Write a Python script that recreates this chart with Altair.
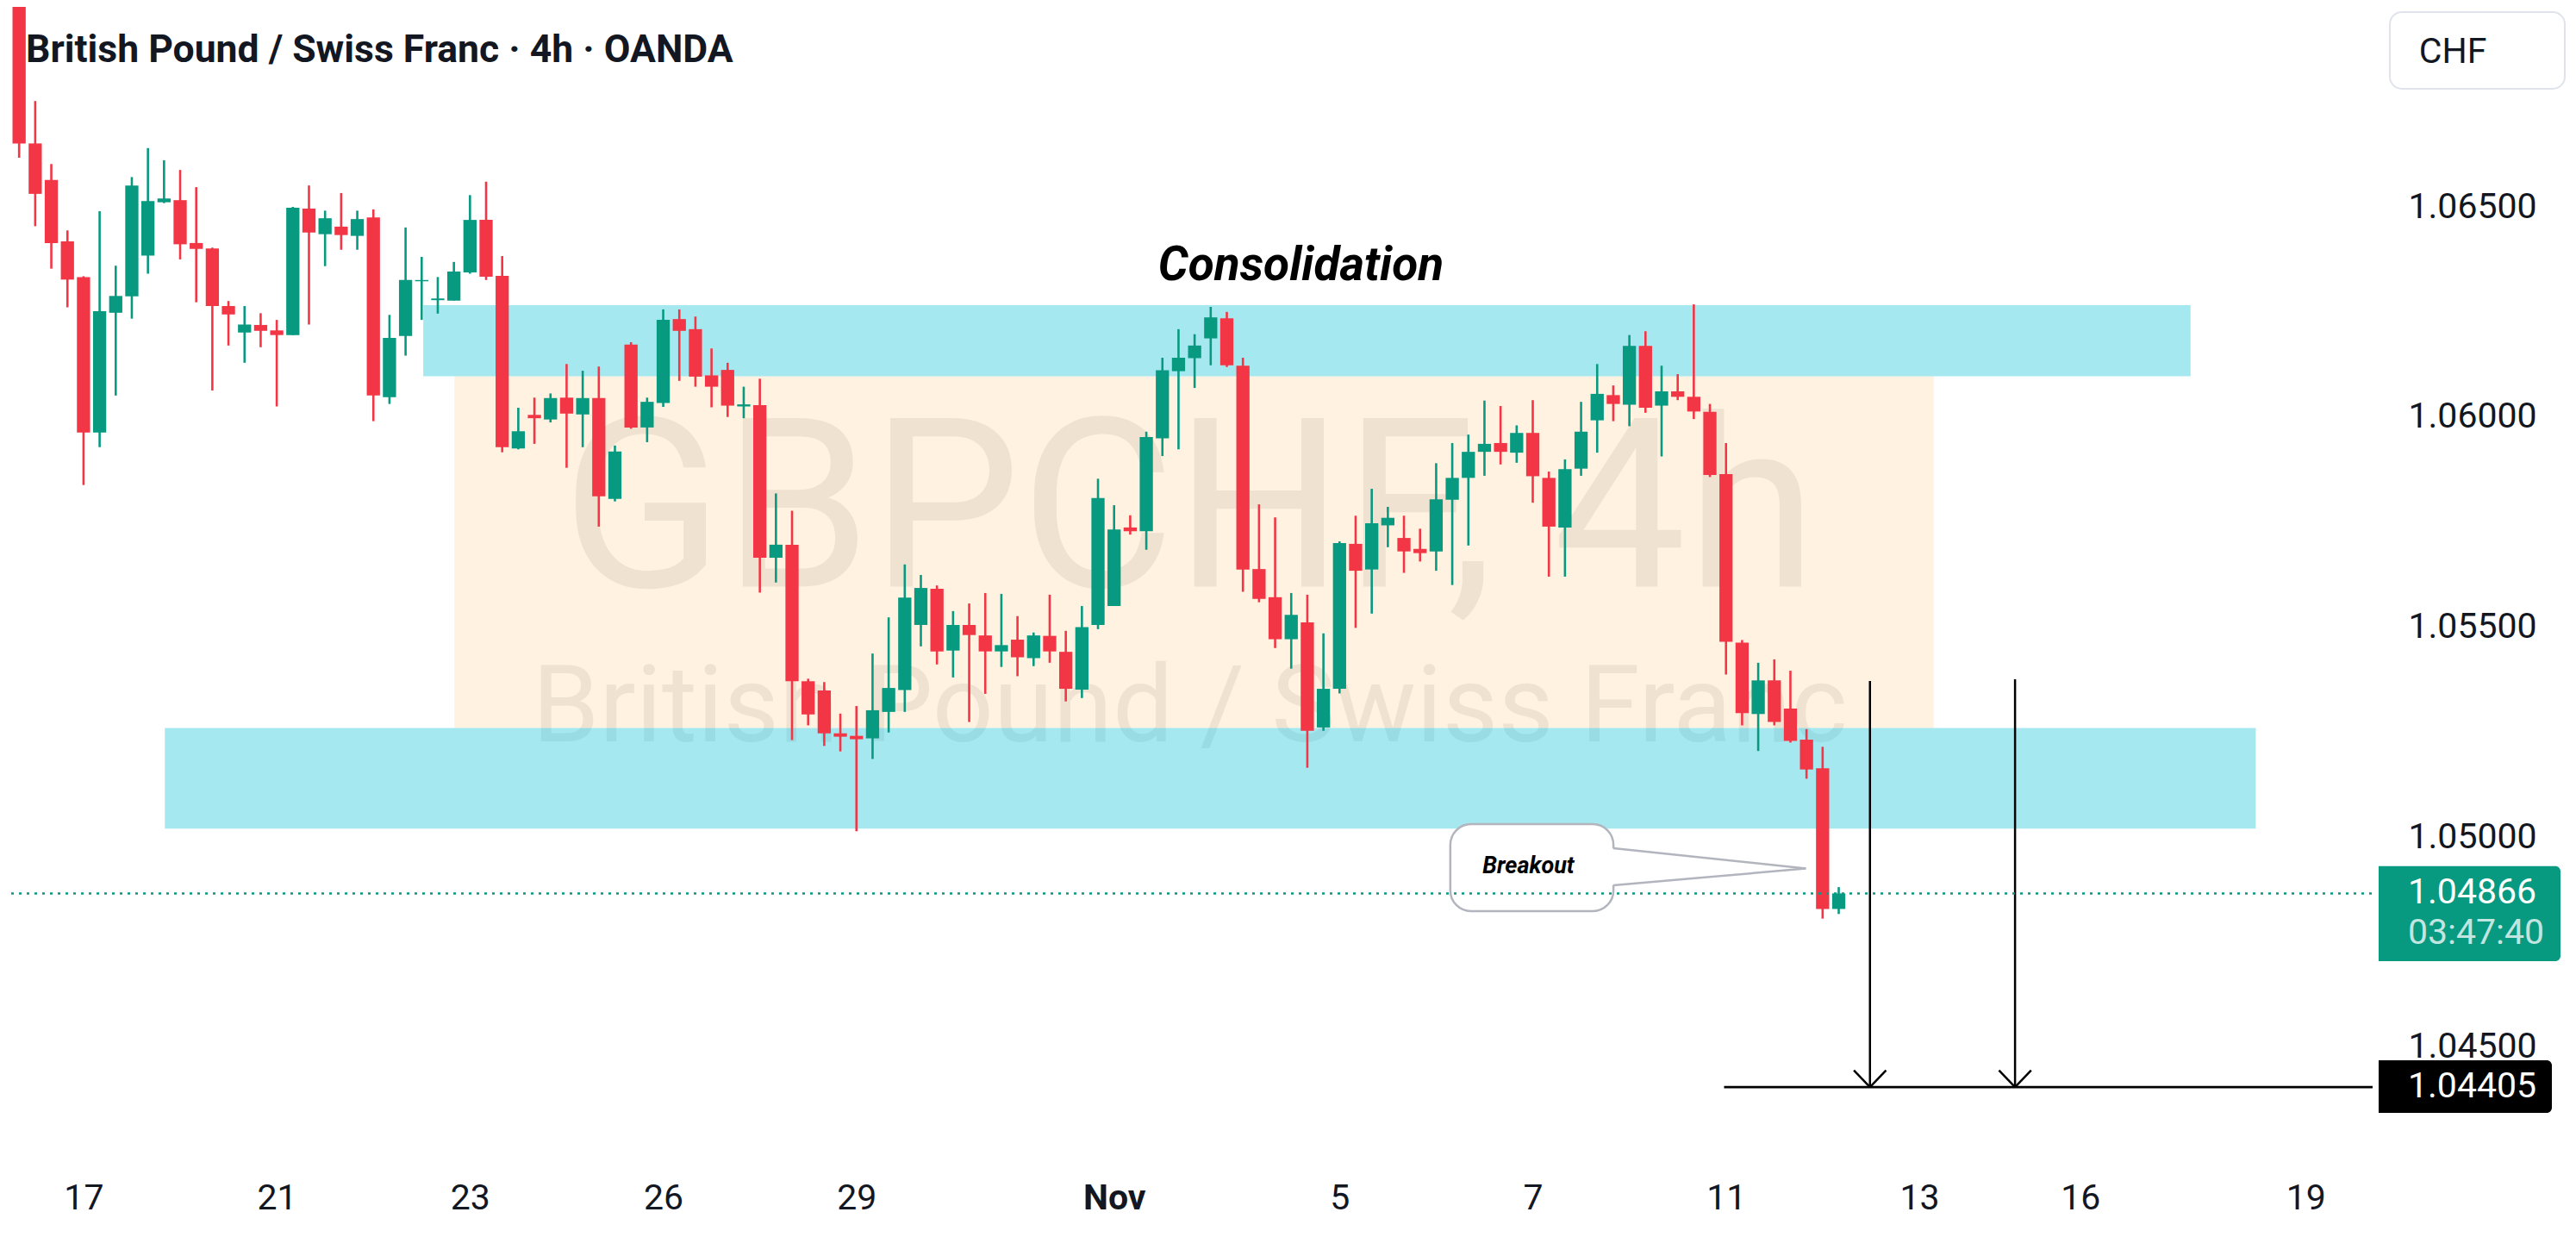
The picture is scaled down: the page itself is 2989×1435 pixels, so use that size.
import altair as alt
import pandas as pd

# ---------------- data ----------------
opens = [1.0705, 1.06651, 1.06564, 1.06418, 1.06333, 1.05963, 1.06248, 1.06287, 1.06384, 1.06511,
         1.06516, 1.06414, 1.06401, 1.06264, 1.06201, 1.06219, 1.06206, 1.06195, 1.06496, 1.06435,
         1.06453, 1.06431, 1.06475, 1.06047, 1.06193, 1.06323, 1.06278, 1.06277, 1.06344, 1.06469,
         1.06336, 1.05925, 1.06005, 1.05994, 1.06046, 1.06006, 1.06045, 1.05805, 1.06172, 1.05975,
         1.06033, 1.06233, 1.06209, 1.06099, 1.06112, 1.06025, 1.06028, 1.05665, 1.05696, 1.05371,
         1.05349, 1.05247, 1.05241, 1.05235, 1.05298, 1.05350, 1.05505, 1.05591, 1.05444, 1.05505,
         1.05480, 1.05442, 1.05470, 1.05426, 1.05479, 1.05441, 1.05351, 1.05505, 1.05550, 1.05737,
         1.05728, 1.05949, 1.06109, 1.06140, 1.06187, 1.06235, 1.06122, 1.05638, 1.05571, 1.05471,
         1.05511, 1.05261, 1.05353, 1.05698, 1.05637, 1.05742, 1.05712, 1.05686, 1.05680, 1.05803,
         1.05855, 1.05917, 1.05938, 1.05915, 1.05962, 1.05855, 1.05737, 1.05877, 1.05992, 1.06052,
         1.06029, 1.06169, 1.06027, 1.06061, 1.06048, 1.06012, 1.05864, 1.05463, 1.05293, 1.05373,
         1.05306, 1.05232, 1.05164, 1.04829]
highs = [1.0708, 1.06752, 1.06602, 1.06444, 1.06335, 1.06490, 1.06360, 1.06571, 1.06640, 1.06611,
         1.06588, 1.06547, 1.06403, 1.06276, 1.06264, 1.06247, 1.06231, 1.06500, 1.06551, 1.06491,
         1.06533, 1.06491, 1.06494, 1.06243, 1.06451, 1.06381, 1.06333, 1.06369, 1.06528, 1.06560,
         1.06383, 1.06022, 1.06046, 1.06056, 1.06126, 1.06110, 1.06120, 1.05932, 1.06178, 1.06046,
         1.06256, 1.06256, 1.06239, 1.06163, 1.06129, 1.06072, 1.06091, 1.05818, 1.05777, 1.05377,
         1.05369, 1.05294, 1.05312, 1.05437, 1.05523, 1.05649, 1.05624, 1.05599, 1.05538, 1.05556,
         1.05581, 1.05579, 1.05526, 1.05487, 1.05577, 1.05491, 1.05550, 1.05853, 1.05790, 1.05766,
         1.05965, 1.06141, 1.06209, 1.06197, 1.06262, 1.06250, 1.06141, 1.05792, 1.05761, 1.05581,
         1.05577, 1.05485, 1.05704, 1.05765, 1.05829, 1.05786, 1.05765, 1.05734, 1.05890, 1.05938,
         1.05958, 1.06039, 1.06026, 1.05980, 1.06040, 1.05870, 1.05899, 1.06036, 1.06126, 1.06075,
         1.06195, 1.06204, 1.06122, 1.06102, 1.06268, 1.06031, 1.05938, 1.05469, 1.05415, 1.05423,
         1.05396, 1.05257, 1.05215, 1.04881]
lows = [1.06617, 1.06454, 1.06353, 1.06261, 1.05838, 1.05928, 1.06051, 1.06234, 1.06341, 1.06509,
        1.06375, 1.06273, 1.06063, 1.06170, 1.06129, 1.06166, 1.06025, 1.06195, 1.06220, 1.06359,
        1.06398, 1.06398, 1.05990, 1.06031, 1.06146, 1.06231, 1.06246, 1.06277, 1.06341, 1.06326,
        1.05916, 1.05923, 1.05936, 1.05987, 1.05879, 1.05928, 1.05739, 1.05799, 1.05972, 1.05940,
        1.06024, 1.06086, 1.06072, 1.06023, 1.06000, 1.05997, 1.05582, 1.05606, 1.05231, 1.05266,
        1.05217, 1.05204, 1.05014, 1.05186, 1.05249, 1.05298, 1.05454, 1.05411, 1.05380, 1.05274,
        1.05341, 1.05405, 1.05383, 1.05407, 1.05415, 1.05323, 1.05331, 1.05495, 1.05550, 1.05720,
        1.05684, 1.05907, 1.05923, 1.06069, 1.06123, 1.06119, 1.05584, 1.05559, 1.05450, 1.05401,
        1.05165, 1.05253, 1.05342, 1.05498, 1.05532, 1.05690, 1.05629, 1.05656, 1.05634, 1.05600,
        1.05694, 1.05860, 1.05887, 1.05891, 1.05796, 1.05620, 1.05620, 1.05860, 1.05915, 1.05990,
        1.05978, 1.06010, 1.05906, 1.06040, 1.05995, 1.05857, 1.05387, 1.05266, 1.05205, 1.05266,
        1.05225, 1.05139, 1.04806, 1.04817]
closes = [1.06651, 1.06531, 1.06414, 1.06327, 1.05963, 1.06252, 1.06288, 1.06551, 1.06514, 1.06520,
          1.06411, 1.06400, 1.06264, 1.06244, 1.06220, 1.06205, 1.06195, 1.06498, 1.06439, 1.06473,
          1.06433, 1.06471, 1.06051, 1.06188, 1.06326, 1.06326, 1.06282, 1.06346, 1.06469, 1.06334,
          1.05928, 1.05966, 1.05997, 1.06045, 1.06008, 1.06045, 1.05811, 1.05918, 1.05975, 1.06036,
          1.06231, 1.06205, 1.06096, 1.06072, 1.06027, 1.06030, 1.05665, 1.05696, 1.05371, 1.05292,
          1.05247, 1.05239, 1.05233, 1.05302, 1.05355, 1.05570, 1.05593, 1.05442, 1.05505, 1.05481,
          1.05442, 1.05457, 1.05428, 1.05480, 1.05442, 1.05353, 1.05500, 1.05807, 1.05732, 1.05728,
          1.05952, 1.06111, 1.06141, 1.06170, 1.06237, 1.06123, 1.05637, 1.05567, 1.05471, 1.05529,
          1.05253, 1.05353, 1.05700, 1.05634, 1.05747, 1.05760, 1.05680, 1.05676, 1.05804, 1.05855,
          1.05917, 1.05936, 1.05917, 1.05962, 1.05859, 1.05739, 1.05876, 1.05965, 1.06055, 1.06031,
          1.06169, 1.06022, 1.06061, 1.06048, 1.06013, 1.05862, 1.05465, 1.05295, 1.05373, 1.05274,
          1.05229, 1.05161, 1.04829, 1.04866]
bar_index = list(range(1, len(opens) + 1))

tick_bars = [5, 17, 29, 41, 53, 69, 83, 95, 107, 119, 129, 143]
tick_labels = ["17", "21", "23", "26", "29", "Nov", "5", "7", "11", "13", "16", "19"]
price_ticks = [1.045, 1.050, 1.055, 1.060, 1.065]

# drawings (bar index / price)
resist_x = [26.1, 135.85]
resist_y = [1.06266, 1.06097]
range_x = [28.03, 119.9]
range_y = [1.06097, 1.05260]
support_x = [10.05, 139.9]
support_y = [1.05260, 1.05020]

last_price = 1.04866
target_price = 1.04405
target_x = [106.88]
arrow_x = [115.94, 124.95]
arrow_top = [1.053716, 1.053757]

callout_x = [89.88, 100.01]
callout_y = [1.050310, 1.048238]
tail_base_y = [1.049735, 1.048853]
tail_tip = [111.96, 1.049253]

TITLE = "British Pound / Swiss Franc · 4h · OANDA"
WATERMARK_1 = "GBPCHF, 4h"
WATERMARK_2 = "British Pound / Swiss Franc"

# ---------------- style ----------------
W, H = 2750, 1337
XDOM = [0.509, 147.155]
YDOM = [1.042329, 1.069760]
GREEN = "#089981"
RED = "#F23645"
TXT = "#131722"
FONT = "Roboto"

xsc = alt.Scale(domain=XDOM, nice=False, zero=False)
ysc = alt.Scale(domain=YDOM, nice=False, zero=False)

arr_pos = "[" + ",".join(str(v) for v in tick_bars) + "]"
arr_lab = "[" + ",".join("'" + s + "'" for s in tick_labels) + "]"
label_expr = f"indexof({arr_pos}, datum.value) >= 0 ? {arr_lab}[indexof({arr_pos}, datum.value)] : ''"
nov_pos = tick_bars[tick_labels.index("Nov")]

x_axis = alt.Axis(values=tick_bars, labelExpr=label_expr, title=None, grid=False, ticks=False,
                  tickSize=0, domain=False, labelFont=FONT, labelFontSize=41, labelColor=TXT,
                  labelBaseline="middle", labelPadding=45, labelOverlap=False, labelFlush=False,
                  labelFontWeight={"condition": {"test": f"datum.value == {nov_pos}", "value": "bold"},
                                   "value": "normal"})
y_axis = alt.Axis(values=price_ticks, format=".5f", orient="right", title=None, grid=False,
                  ticks=False, tickSize=0, domain=False, labelFont=FONT, labelFontSize=41,
                  labelColor=TXT, labelAlign="left", labelBaseline="middle", labelPadding=36,
                  labelOverlap=False, labelFlush=False)


def X(f):
    return alt.X(f, type="quantitative", scale=xsc, axis=x_axis)


def Y(f):
    return alt.Y(f, type="quantitative", scale=ysc, axis=y_axis)


candles = pd.DataFrame({"i": bar_index, "open": opens, "high": highs, "low": lows, "close": closes})
up = alt.condition("datum.close >= datum.open", alt.value(GREEN), alt.value(RED))

one = pd.DataFrame({"a": [0]})

# watermark
wm1 = alt.Chart(pd.DataFrame({"x": [73.67], "y": [1.055962], "t": [WATERMARK_1]})).mark_text(
    font=FONT, fontSize=275, color="#EDEDED", align="center", baseline="alphabetic"
).encode(x=X("x"), y=Y("y"), text="t:N")
wm2 = alt.Chart(pd.DataFrame({"x": [73.7], "y": [1.052279], "t": [WATERMARK_2]})).mark_text(
    font=FONT, fontSize=125, color="#EDEDED", align="center", baseline="alphabetic"
).encode(x=X("x"), y=Y("y"), text="t:N")


def zone(xs, ys, color, op):
    d = pd.DataFrame({"x1": [xs[0]], "x2": [xs[1]], "y1": [ys[0]], "y2": [ys[1]]})
    return alt.Chart(d).mark_rect(color=color, opacity=op).encode(
        x=X("x1"), x2="x2", y=Y("y1"), y2="y2")


z_range = zone(range_x, range_y, "#FF9800", 0.12)
z_res = zone(resist_x, resist_y, "#00BCD4", 0.35)
z_sup = zone(support_x, support_y, "#00BCD4", 0.35)

consol = alt.Chart(pd.DataFrame({"x": [80.6], "y": [1.063256], "t": ["Consolidation"]})).mark_text(
    font=FONT, fontSize=55, fontWeight="bold", fontStyle="italic", color="#000000",
    align="center", baseline="alphabetic"
).encode(x=X("x"), y=Y("y"), text="t:N")

wicks = alt.Chart(candles).mark_rule(strokeWidth=2.6, clip=True).encode(
    x=X("i"), y=Y("low"), y2="high", color=up)
bodies = alt.Chart(candles).mark_bar(size=15.3, clip=True).encode(
    x=X("i"), y=Y("open"), y2="close", color=up)

# callout
box = alt.Chart(pd.DataFrame({"x1": [callout_x[0]], "x2": [callout_x[1]],
                              "y1": [callout_y[0]], "y2": [callout_y[1]]})).mark_rect(
    fill="white", stroke="#B2B5BE", strokeWidth=2.5, cornerRadius=24
).encode(x=X("x1"), x2="x2", y=Y("y1"), y2="y2")
tail_fill = alt.Chart(pd.DataFrame({"x": [callout_x[1] - 0.25, tail_tip[0]],
                                    "yt": [tail_base_y[0], tail_tip[1]],
                                    "yb": [tail_base_y[1], tail_tip[1]]})).mark_area(
    color="white", opacity=1
).encode(x=X("x"), y=Y("yt"), y2="yb")
tail_lines = alt.Chart(pd.DataFrame({"x": [callout_x[1]] * 2, "x2": [tail_tip[0]] * 2,
                                     "y": tail_base_y, "y2": [tail_tip[1]] * 2})).mark_rule(
    color="#B2B5BE", strokeWidth=2.5
).encode(x=X("x"), x2="x2", y=Y("y"), y2="y2")
breakout = alt.Chart(pd.DataFrame({"x": [94.73], "y": [1.049304], "t": ["Breakout"]})).mark_text(
    font=FONT, fontSize=27, fontWeight="bold", fontStyle="italic", color="#000000",
    align="center", baseline="middle"
).encode(x=X("x"), y=Y("y"), text="t:N")

# target line and arrows
target = alt.Chart(pd.DataFrame({"x": target_x, "x2": [XDOM[1]], "y": [target_price]})).mark_rule(
    color="#000000", strokeWidth=2.6
).encode(x=X("x"), x2="x2", y=Y("y"))
shafts = alt.Chart(pd.DataFrame({"x": arrow_x, "y": arrow_top, "y2": [target_price] * 2})).mark_rule(
    color="#000000", strokeWidth=2.5
).encode(x=X("x"), y=Y("y"), y2="y2")
head_x, head_x2, head_y, head_y2 = [], [], [], []
for ax in arrow_x:
    for s in (-1.0, 1.0):
        head_x.append(ax + s)
        head_x2.append(ax)
        head_y.append(target_price + 0.0004)
        head_y2.append(target_price)
heads = alt.Chart(pd.DataFrame({"x": head_x, "x2": head_x2, "y": head_y, "y2": head_y2})).mark_rule(
    color="#000000", strokeWidth=2.5
).encode(x=X("x"), x2="x2", y=Y("y"), y2="y2")

dotted = alt.Chart(pd.DataFrame({"x": [XDOM[0]], "x2": [XDOM[1]], "y": [last_price]})).mark_rule(
    color=GREEN, strokeDash=[3, 6], strokeWidth=2.5
).encode(x=X("x"), x2="x2", y=Y("y"))

# price scale labels
gbox = alt.Chart(pd.DataFrame({"y1": [last_price + 0.00065], "y2": [last_price - 0.00161]})).mark_rect(
    color=GREEN, cornerRadiusTopRight=6, cornerRadiusBottomRight=6
).encode(x=alt.value(2752), x2=alt.value(2963), y=Y("y1"), y2="y2")
gtxt = alt.Chart(pd.DataFrame({"y": [last_price], "t": ["1.04866"]})).mark_text(
    font=FONT, fontSize=41, color="white", align="left", baseline="middle"
).encode(x=alt.value(2786), y=Y("y"), text="t:N")
gtimer = alt.Chart(pd.DataFrame({"y": [last_price], "t": ["03:47:40"]})).mark_text(
    font=FONT, fontSize=41, color="white", opacity=0.75, align="left", baseline="middle", dy=47
).encode(x=alt.value(2786), y=Y("y"), text="t:N")
bbox = alt.Chart(pd.DataFrame({"y1": [target_price + 0.000636], "y2": [target_price - 0.000615]})).mark_rect(
    color="#000000", cornerRadiusTopRight=6, cornerRadiusBottomRight=6
).encode(x=alt.value(2752), x2=alt.value(2953), y=Y("y1"), y2="y2")
btxt = alt.Chart(pd.DataFrame({"y": [target_price], "t": ["1.04405"]})).mark_text(
    font=FONT, fontSize=41, color="white", align="left", baseline="middle"
).encode(x=alt.value(2786), y=Y("y"), text="t:N")

chf_box = alt.Chart(one).mark_rect(fill="white", stroke="#E0E3EB", strokeWidth=2, cornerRadius=14).encode(
    x=alt.value(2765), x2=alt.value(2968), y=alt.value(6), y2=alt.value(95))
chf_txt = alt.Chart(pd.DataFrame({"t": ["CHF"]})).mark_text(
    font=FONT, fontSize=41, color=TXT, align="center", baseline="alphabetic"
).encode(x=alt.value(2838), y=alt.value(65), text="t:N")

title = alt.Chart(pd.DataFrame({"t": [TITLE]})).mark_text(
    font=FONT, fontSize=44.5, fontWeight="bold", color=TXT, align="left", baseline="alphabetic"
).encode(x=alt.value(22), y=alt.value(64), text="t:N")

chart = alt.layer(
    wm1, wm2, z_range, z_res, z_sup, consol, wicks, bodies,
    box, tail_fill, tail_lines, breakout, target, shafts, heads, dotted,
    gbox, gtxt, gtimer, bbox, btxt, chf_box, chf_txt, title
).properties(
    width=W, height=H, padding={"left": 0, "top": 0, "right": 0, "bottom": 12}
).configure_view(strokeWidth=0)

chart.save("out.html", embed_options={"renderer": "svg", "actions": False})
